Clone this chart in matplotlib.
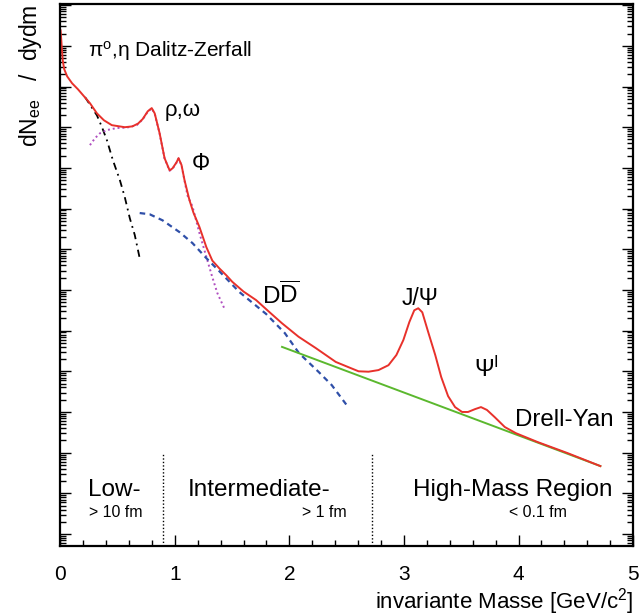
import numpy as np
import matplotlib
matplotlib.use("Agg")
import matplotlib.pyplot as plt
from matplotlib.ticker import MultipleLocator, LogLocator, NullFormatter

plt.rcParams["font.family"] = ["Liberation Sans", "DejaVu Sans"]
plt.rcParams["mathtext.fontset"] = "custom"
plt.rcParams["mathtext.rm"] = "Liberation Sans"
plt.rcParams["mathtext.it"] = "Liberation Sans:italic"

# invariant mass [GeV/c^2] and log10 of dN/dydm (arbitrary units)
total_m = [0.004, 0.013, 0.022, 0.035, 0.061, 0.104, 0.156, 0.208, 0.260, 0.321,
           0.382, 0.451, 0.564, 0.630, 0.680, 0.720, 0.764, 0.799, 0.825, 0.868, 0.911,
           0.955, 0.981, 1.016, 1.033, 1.059, 1.085, 1.128, 1.163, 1.215, 1.276,
           1.328, 1.389, 1.450, 1.502, 1.600, 1.710, 1.820, 1.936, 2.080, 2.231,
           2.405, 2.517, 2.604, 2.691, 2.778, 2.865, 2.934, 2.995, 3.047, 3.090,
           3.125, 3.160, 3.212, 3.273, 3.325, 3.385, 3.446, 3.507, 3.559, 3.620,
           3.672, 3.724, 3.793, 3.880, 3.976, 4.167, 4.427, 4.714]
total_lg = [12.38, 12.01, 11.65, 11.43, 11.25, 11.08, 10.93, 10.76, 10.59, 10.34,
            10.17, 10.05, 10.00, 10.02, 10.09, 10.20, 10.39, 10.47, 10.34, 9.85, 9.24,
            8.94, 8.99, 9.14, 9.24, 9.07, 8.70, 8.21, 7.90, 7.55, 7.05,
            6.72, 6.53, 6.36, 6.20, 5.96, 5.75, 5.47, 5.18, 4.85, 4.57,
            4.23, 4.10, 4.00, 3.99, 4.03, 4.15, 4.40, 4.77, 5.21, 5.50,
            5.55, 5.45, 4.96, 4.40, 3.86, 3.39, 3.12, 3.00, 3.00, 3.07,
            3.12, 3.05, 2.87, 2.63, 2.48, 2.26, 1.99, 1.67]

# pi0 / eta Dalitz decays
dalitz_m = [0.217, 0.321, 0.365, 0.408, 0.460, 0.521, 0.564, 0.608, 0.651, 0.694]
dalitz_lg = [10.74, 10.29, 10.00, 9.68, 9.19, 8.70, 8.28, 7.76, 7.35, 6.78]

# vector mesons rho, omega, phi
vec_m = [0.260, 0.304, 0.347, 0.408, 0.495, 0.582, 0.668, 0.720, 0.764, 0.799,
         0.825, 0.868, 0.911, 0.955, 0.981, 1.016, 1.033, 1.059, 1.085, 1.111,
         1.155, 1.215, 1.276, 1.328, 1.372, 1.432]
vec_lg = [9.56, 9.73, 9.85, 9.93, 9.98, 9.99, 10.05, 10.19, 10.38, 10.46,
          10.33, 9.84, 9.23, 8.93, 8.98, 9.13, 9.23, 9.06, 8.69, 8.32,
          8.05, 7.40, 6.81, 6.31, 5.92, 5.55]

# open charm (D Dbar)
charm_m = [0.694, 0.781, 0.894, 1.042, 1.155, 1.276, 1.389, 1.563, 1.797, 1.960,
           2.083, 2.257, 2.370, 2.500]
charm_lg = [7.89, 7.86, 7.71, 7.42, 7.15, 6.78, 6.46, 5.95, 5.41, 4.94,
            4.45, 3.98, 3.66, 3.17]

# Drell-Yan continuum
dy_m = [1.936, 4.714]
dy_lg = [4.60, 1.67]

# region boundaries
region_edges = [0.9, 2.72]

fig = plt.figure(figsize=(6.4, 6.16), dpi=100)
ax = fig.add_axes([0.094, 0.1136, 0.8953, 0.88])

ax.plot(dalitz_m, 10.0 ** np.array(dalitz_lg), color="black", lw=1.3,
        linestyle=(0, (4, 2.5, 1, 2.5)))
ax.plot(vec_m, 10.0 ** np.array(vec_lg), color="#b04fc0", lw=1.4,
        linestyle=(0, (1, 1.5)))
ax.plot(charm_m, 10.0 ** np.array(charm_lg), color="#2f4fa8", lw=1.6,
        linestyle=(0, (2.5, 2)))
ax.plot(dy_m, 10.0 ** np.array(dy_lg), color="#5bb82e", lw=1.4)
ax.plot(total_m, 10.0 ** np.array(total_lg), color="#e8312b", lw=1.4)

ylo, yhi = 10 ** -0.295, 10 ** 13.03
for xe in region_edges:
    ax.plot([xe, xe], [ylo, 1e2], color="black", lw=1.0, linestyle=(0, (1, 1.5)))

ax.set_yscale("log")
ax.set_xlim(0, 5)
ax.set_ylim(ylo, yhi)

ax.xaxis.set_major_locator(MultipleLocator(1))
ax.xaxis.set_minor_locator(MultipleLocator(0.2))
ax.yaxis.set_major_locator(LogLocator(base=10, numticks=30))
ax.yaxis.set_minor_locator(LogLocator(base=10, subs=np.arange(2, 10), numticks=30))
ax.yaxis.set_major_formatter(NullFormatter())
ax.yaxis.set_minor_formatter(NullFormatter())
ax.tick_params(which="both", direction="in", right=True, width=1.0)
ax.tick_params(which="major", length=8)
ax.tick_params(which="minor", length=4.5)
ax.tick_params(axis="x", labelsize=15, pad=14)
for s in ax.spines.values():
    s.set_linewidth(1.6)

ax.set_xlabel("invariante Masse [GeV/c$^{2}$]", fontsize=16, loc="right", labelpad=1)
ax.set_ylabel("dN$_{\\rm ee}$   /  dydm", fontsize=16.5, loc="top", labelpad=8)

ax.text(0.243, 10 ** 11.87, "π$^{\\rm o}$,η Dalitz-Zerfall", fontsize=15, va="center")
ax.text(0.91, 10 ** 10.42, "ρ,ω", fontsize=16, va="center")
ax.text(1.15, 10 ** 9.12, "Φ", fontsize=16.5, va="center")
ax.text(1.92, 10 ** 5.86, "D$\\overline{\\rm D}$", fontsize=17.5, va="center", ha="center")
ax.text(3.14, 10 ** 5.78, "J/Ψ", fontsize=16.5, va="center", ha="center")
ax.text(3.72, 10 ** 4.05, "Ψ$^{\\rm I}$", fontsize=17, va="center", ha="center")
ax.text(4.40, 10 ** 2.80, "Drell-Yan", fontsize=17.3, va="center", ha="center")

big = 17.5
small = 11.4
ax.text(0.243, 10 ** 1.08, "Low-", fontsize=big, va="center")
ax.text(0.25, 10 ** 0.52, "> 10 fm", fontsize=small, va="center")
ax.text(1.11, 10 ** 1.08, "Intermediate-", fontsize=big, va="center")
ax.text(2.50, 10 ** 0.52, "> 1 fm", fontsize=small, va="center", ha="right")
ax.text(3.08, 10 ** 1.08, "High-Mass Region", fontsize=big, va="center")
ax.text(3.92, 10 ** 0.52, "< 0.1 fm", fontsize=small, va="center")

fig.savefig("out.png", dpi=100)
